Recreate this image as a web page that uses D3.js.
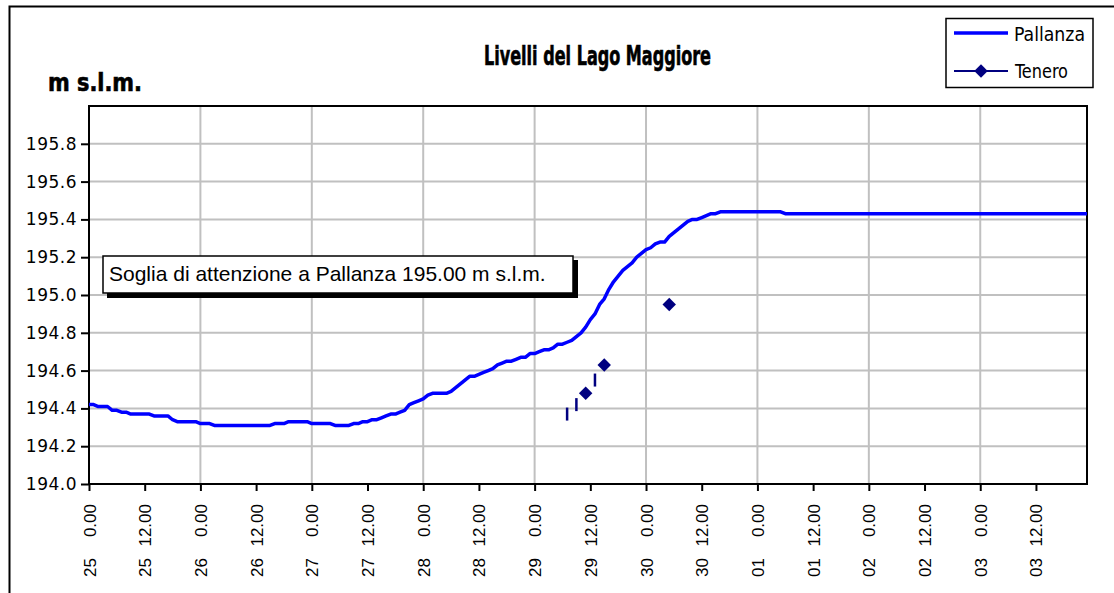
<!DOCTYPE html>
<html>
<head>
<meta charset="utf-8">
<script src="https://cdn.jsdelivr.net/npm/d3@7"></script>
<style>
  body { margin: 0; background: #fff; }
  svg { display: block; }
  .tick-label { font-family: "DejaVu Sans", Verdana, sans-serif; font-size: 17px; fill: #000; }
  .x-label { font-family: "Liberation Sans", Arial, sans-serif; font-size: 17px; fill: #000; }
  .narrow { font-family: "Liberation Sans Narrow", "Arial Narrow", "DejaVu Sans Condensed", sans-serif; }
</style>
</head>
<body>
<div id="chart"></div>
<script>
// Hourly readings, 25 0.00 -> 03 23.00 (216 hours)
var pallanza = [
  194.42,194.42,194.41,194.41,194.41,194.39,194.39,194.38,194.38,194.37,194.37,194.37,
  194.37,194.37,194.36,194.36,194.36,194.36,194.34,194.33,194.33,194.33,194.33,194.33,
  194.32,194.32,194.32,194.31,194.31,194.31,194.31,194.31,194.31,194.31,194.31,194.31,
  194.31,194.31,194.31,194.31,194.32,194.32,194.32,194.33,194.33,194.33,194.33,194.33,
  194.32,194.32,194.32,194.32,194.32,194.31,194.31,194.31,194.31,194.32,194.32,194.33,
  194.33,194.34,194.34,194.35,194.36,194.37,194.37,194.38,194.39,194.42,194.43,194.44,
  194.45,194.47,194.48,194.48,194.48,194.48,194.49,194.51,194.53,194.55,194.57,194.57,
  194.58,194.59,194.60,194.61,194.63,194.64,194.65,194.65,194.66,194.67,194.67,194.69,
  194.69,194.70,194.71,194.71,194.72,194.74,194.74,194.75,194.76,194.78,194.80,194.83,
  194.87,194.90,194.95,194.98,195.03,195.07,195.10,195.13,195.15,195.17,195.20,195.22,
  195.24,195.25,195.27,195.28,195.28,195.31,195.33,195.35,195.37,195.39,195.40,195.40,
  195.41,195.42,195.43,195.43,195.44,195.44,195.44,195.44,195.44,195.44,195.44,195.44,
  195.44,195.44,195.44,195.44,195.44,195.44,195.43,195.43,195.43,195.43,195.43,195.43,
  195.43,195.43,195.43,195.43,195.43,195.43,195.43,195.43,195.43,195.43,195.43,195.43,
  195.43,195.43,195.43,195.43,195.43,195.43,195.43,195.43,195.43,195.43,195.43,195.43,
  195.43,195.43,195.43,195.43,195.43,195.43,195.43,195.43,195.43,195.43,195.43,195.43,
  195.43,195.43,195.43,195.43,195.43,195.43,195.43,195.43,195.43,195.43,195.43,195.43,
  195.43,195.43,195.43,195.43,195.43,195.43,195.43,195.43,195.43,195.43,195.43,195.43
];

// Tenero: points drawn with a marker, and isolated line pieces
var teneroHours = [107, 111, 125];
var teneroValues = [194.48, 194.63, 194.95];
var teneroDashHours = [103, 105, 109];
var teneroDashValues = [194.37, 194.42, 194.55];

// x tick labels: day + time, every 12 hours
var tickDays = ["25", "25", "26", "26", "27", "27", "28", "28", "29", "29",
  "30", "30", "01", "01", "02", "02", "03", "03"];
var tickTimes = ["0.00", "12.00", "0.00", "12.00", "0.00", "12.00", "0.00", "12.00", "0.00", "12.00",
  "0.00", "12.00", "0.00", "12.00", "0.00", "12.00", "0.00", "12.00"];
var yTicks = [194.0, 194.2, 194.4, 194.6, 194.8, 195.0, 195.2, 195.4, 195.6, 195.8];

var svgWidth = 1114;
var svgHeight = 593;
var plot = { left: 89, right: 1087, top: 106, bottom: 484 };

var svg = d3.select("#chart")
  .append("svg")
  .attr("width", svgWidth)
  .attr("height", svgHeight);

svg.append("rect")
  .attr("width", svgWidth)
  .attr("height", svgHeight)
  .attr("fill", "#fff");

// chart area border (only top and left are visible)
svg.append("path")
  .attr("d", "M9.5,593 L9.5,6.5 L1114,6.5")
  .attr("fill", "none")
  .attr("stroke", "#000")
  .attr("stroke-width", 2);

var xScale = d3.scaleLinear()
  .domain([0, pallanza.length - 1])
  .range([plot.left, plot.right]);

var yScale = d3.scaleLinear()
  .domain([194, 196])
  .range([plot.bottom, plot.top]);

// gridlines
svg.append("g")
  .selectAll("line")
  .data(yTicks.slice(1))
  .enter()
  .append("line")
  .attr("x1", plot.left)
  .attr("x2", plot.right)
  .attr("y1", d => yScale(d))
  .attr("y2", d => yScale(d))
  .attr("stroke", "#c0c0c0")
  .attr("stroke-width", 2);

svg.append("g")
  .selectAll("line")
  .data(d3.range(24, pallanza.length, 24))
  .enter()
  .append("line")
  .attr("x1", d => xScale(d))
  .attr("x2", d => xScale(d))
  .attr("y1", plot.top)
  .attr("y2", plot.bottom)
  .attr("stroke", "#c0c0c0")
  .attr("stroke-width", 2);

// plot frame
svg.append("rect")
  .attr("x", plot.left)
  .attr("y", plot.top)
  .attr("width", plot.right - plot.left)
  .attr("height", plot.bottom - plot.top)
  .attr("fill", "none")
  .attr("stroke", "#000")
  .attr("stroke-width", 2);

// y axis
var leftAxis = d3.axisLeft(yScale)
  .tickValues(yTicks)
  .tickSize(8)
  .tickPadding(4)
  .tickFormat(d3.format(".1f"));

var yAxis = svg.append("g")
  .attr("transform", `translate(${plot.left}, 0)`)
  .call(leftAxis);
yAxis.attr("font-size", null).attr("font-family", null);
yAxis.select(".domain").remove();
yAxis.selectAll(".tick line").attr("stroke", "#000").attr("stroke-width", 2);
yAxis.selectAll(".tick text")
  .attr("class", "tick-label")
  .attr("letter-spacing", "0.5px");

// x axis: time right next to the axis, day further down
var tickHours = d3.range(0, pallanza.length - 1, 12);
var bottomAxis = d3.axisBottom(xScale)
  .tickValues(tickHours)
  .tickSize(7)
  .tickFormat((d, i) => tickTimes[i]);

var xAxis = svg.append("g")
  .attr("transform", `translate(0, ${plot.bottom})`)
  .call(bottomAxis);
xAxis.attr("font-size", null).attr("font-family", null);
xAxis.select(".domain").remove();
xAxis.selectAll(".tick line").attr("stroke", "#000").attr("stroke-width", 2);
xAxis.selectAll(".tick text")
  .attr("class", "x-label")
  .attr("transform", "translate(6, 20) rotate(-90)")
  .attr("x", 0)
  .attr("y", 0)
  .attr("dy", 0)
  .attr("text-anchor", "end");

xAxis.selectAll(".tick")
  .append("text")
  .attr("class", "x-label")
  .attr("transform", "translate(6, 93) rotate(-90)")
  .attr("text-anchor", "start")
  .text((d, i) => tickDays[i]);

// Pallanza line
var line = d3.line()
  .x((d, i) => xScale(i))
  .y(d => yScale(d));

svg.append("path")
  .datum(pallanza)
  .attr("d", line)
  .attr("fill", "none")
  .attr("stroke", "#0000ff")
  .attr("stroke-width", 3.5)
  .attr("stroke-linejoin", "round");

// Tenero
svg.append("g")
  .selectAll("line")
  .data(teneroDashHours)
  .enter()
  .append("line")
  .attr("x1", d => xScale(d))
  .attr("x2", d => xScale(d))
  .attr("y1", (d, i) => yScale(teneroDashValues[i]) - 6.5)
  .attr("y2", (d, i) => yScale(teneroDashValues[i]) + 6.5)
  .attr("stroke", "#000080")
  .attr("stroke-width", 2.5);

var diamond = d3.symbol().type(d3.symbolDiamond2).size(115);

svg.append("g")
  .selectAll("path")
  .data(teneroHours)
  .enter()
  .append("path")
  .attr("d", diamond)
  .attr("transform", (d, i) => `translate(${xScale(d)}, ${yScale(teneroValues[i])})`)
  .attr("fill", "#000080");

// threshold note
svg.append("rect")
  .attr("x", 107)
  .attr("y", 260)
  .attr("width", 471)
  .attr("height", 38)
  .attr("fill", "#000");
svg.append("rect")
  .attr("x", 103)
  .attr("y", 256)
  .attr("width", 470)
  .attr("height", 37)
  .attr("fill", "#fff")
  .attr("stroke", "#000")
  .attr("stroke-width", 1.5);
svg.append("text")
  .attr("x", 109)
  .attr("y", 281)
  .attr("font-family", "'Liberation Sans', Arial, sans-serif")
  .attr("font-size", "21px")
  .text("Soglia di attenzione a Pallanza 195.00 m s.l.m.");

// titles (condensed bold)
svg.append("text")
  .attr("class", "narrow")
  .attr("x", 484)
  .attr("y", 65)
  .attr("font-size", "26px")
  .attr("font-weight", "bold")
  .attr("stroke", "#000")
  .attr("stroke-width", 0.6)
  .attr("textLength", 227)
  .attr("lengthAdjust", "spacingAndGlyphs")
  .text("Livelli del Lago Maggiore");

svg.append("text")
  .attr("class", "narrow")
  .attr("x", 48)
  .attr("y", 91)
  .attr("font-size", "25px")
  .attr("font-weight", "bold")
  .attr("stroke", "#000")
  .attr("stroke-width", 0.6)
  .attr("textLength", 94)
  .attr("lengthAdjust", "spacingAndGlyphs")
  .text("m s.l.m.");

// legend
var legend = svg.append("g");
legend.append("rect")
  .attr("x", 946)
  .attr("y", 18.5)
  .attr("width", 147)
  .attr("height", 69)
  .attr("fill", "#fff")
  .attr("stroke", "#000")
  .attr("stroke-width", 1.5);
legend.append("line")
  .attr("x1", 954).attr("x2", 1008)
  .attr("y1", 33).attr("y2", 33)
  .attr("stroke", "#0000ff")
  .attr("stroke-width", 3.5);
legend.append("text")
  .attr("class", "narrow")
  .attr("x", 1014)
  .attr("y", 41)
  .attr("font-size", "20px")
  .attr("textLength", 71)
  .attr("lengthAdjust", "spacingAndGlyphs")
  .text("Pallanza");
legend.append("line")
  .attr("x1", 954).attr("x2", 1008)
  .attr("y1", 71).attr("y2", 71)
  .attr("stroke", "#000080")
  .attr("stroke-width", 2);
legend.append("path")
  .attr("d", diamond)
  .attr("transform", "translate(981, 71)")
  .attr("fill", "#000080");
legend.append("text")
  .attr("class", "narrow")
  .attr("x", 1015)
  .attr("y", 78)
  .attr("font-size", "20px")
  .attr("textLength", 53)
  .attr("lengthAdjust", "spacingAndGlyphs")
  .text("Tenero");
</script>
</body>
</html>
